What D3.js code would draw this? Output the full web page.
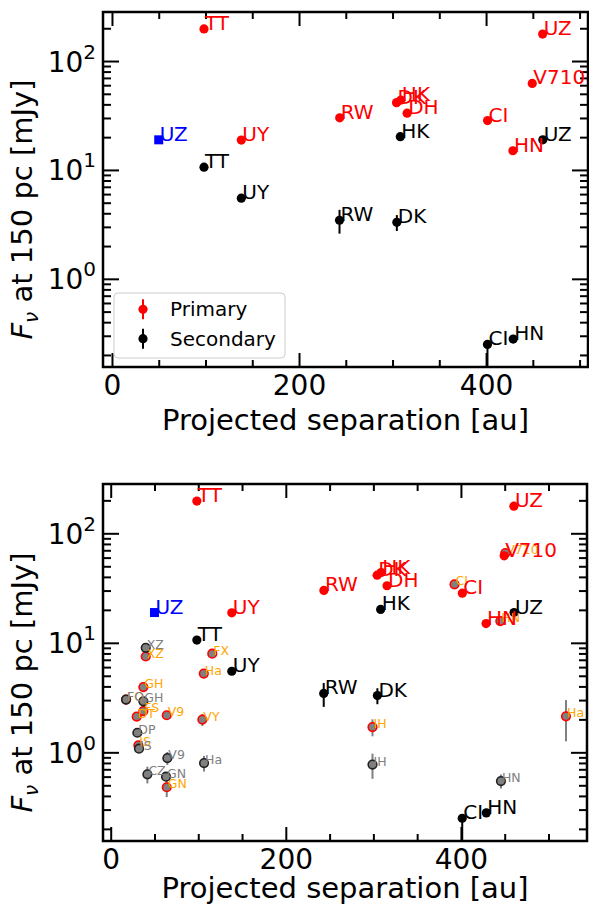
<!DOCTYPE html>
<html>
<head>
<meta charset="utf-8">
<script src="https://cdn.jsdelivr.net/npm/d3@7"></script>
<style>
  body { margin: 0; background: #fff; }
  text { font-family: "DejaVu Sans", sans-serif; }
</style>
</head>
<body>
<svg id="fig" width="589" height="908"></svg>
<script>
// primary components (red)
var primNames = ["TT", "UY", "RW", "DK", "HK", "DH", "CI", "HN", "V710", "UZ"];
var primSep   = [98.4, 138.3, 243.5, 304.3, 308.9, 315.6, 401.6, 428.7, 449.4, 460.5];
var primFlux  = [197, 18.8, 30.1, 41.5, 43.8, 33.2, 28.4, 15.0, 62.3, 177];

// secondary components (black)
var secNames = ["TT", "UY", "RW", "DK", "HK", "CI", "HN", "UZ"];
var secSep   = [98.4, 138.3, 243.3, 304.6, 308.3, 401.5, 429.0, 460.7];
var secFlux  = [10.6, 5.5, 3.45, 3.3, 20.2, 0.25, 0.28, 18.9];
var secErrLo = [0, 0, 0.85, 0.55, 0, 0.12, 0, 0];
var secErrHi = [0, 0, 0.85, 0.55, 0, 0.01, 0, 0];

// single star (blue square)
var singleNames = ["UZ"];
var singleSep   = [50];
var singleFlux  = [18.9];

// comparison sample, lower panel only: primaries (orange labels)
var cmpPrimNames = ["XZ", "FX", "Ha", "GH", "FQ", "DT", "FS", "V9", "VY", "IS", "GN", "IH", "Ha", "CI", "HN", "V710"];
var cmpPrimSep   = [40, 116, 106.3, 37.3, 17.5, 29.7, 37.3, 64, 104.7, 31.6, 64, 299, 520, 392.7, 445, 450.7];
var cmpPrimFlux  = [7.5, 7.96, 5.24, 3.94, 3.03, 2.12, 2.38, 2.18, 1.99, 1.16, 0.48, 1.70, 2.13, 34.2, 15.8, 66];
var cmpPrimErr   = [0, 0, 0, 0, 0, 0, 0, 0, 0.25, 0, 0.09, 0.3, 0.87, 0, 0, 0];

// comparison sample: secondaries (grey labels)
var cmpSecNames = ["XZ", "FQ", "GH", "DP", "IS", "V9", "Ha", "CZ", "GN", "IH", "HN"];
var cmpSecSep   = [40, 17.5, 37.3, 30.4, 32.3, 64.7, 106.6, 41.9, 63.2, 299, 445.7];
var cmpSecFlux  = [9.0, 3.03, 2.92, 1.51, 1.08, 0.887, 0.798, 0.63, 0.60, 0.773, 0.547];
var cmpSecErr   = [0, 0, 0, 0.1, 0, 0.12, 0.13, 0.11, 0, 0.2, 0.08];

var xMajor = [0, 200, 400];
var yMajor = [1, 10, 100];
var yMajorExp = ["0", "1", "2"];
var Y_DOMAIN = [0.155, 282];

var svg = d3.select("#fig");

function rows(names, sep, flux, lo, hi) {
  return names.map(function(n, i) {
    return {name: n, sep: sep[i], flux: flux[i],
            lo: lo ? lo[i] : 0, hi: hi ? hi[i] : 0};
  });
}

function panel(box, xDom, withCmp, withLegend) {
  var x = d3.scaleLinear().domain(xDom).range([box.left, box.right]);
  var y = d3.scaleLog().domain(Y_DOMAIN).range([box.bottom, box.top]);

  var xMinor = d3.range(0, xDom[1], 50).filter(function(v) { return xMajor.indexOf(v) < 0; });
  var yMinor = y.ticks(30).filter(function(v) {
    return yMajor.indexOf(v) < 0 && v > Y_DOMAIN[0] && v < Y_DOMAIN[1];
  });

  var g = svg.append("g");

  function axis(gen, orient, vals, size, fmt) {
    var a = gen(orient === "x" ? x : y).tickValues(vals).tickSize(-size).tickPadding(8);
    a.tickFormat(fmt || "");
    return a;
  }

  // x axes
  g.append("g").attr("transform", "translate(0," + box.bottom + ")")
    .call(axis(d3.axisBottom, "x", xMajor, 14, d3.format("d")));
  g.append("g").attr("transform", "translate(0," + box.bottom + ")")
    .call(axis(d3.axisBottom, "x", xMinor, 7));
  g.append("g").attr("transform", "translate(0," + box.top + ")")
    .call(axis(d3.axisTop, "x", xMajor, 14));
  g.append("g").attr("transform", "translate(0," + box.top + ")")
    .call(axis(d3.axisTop, "x", xMinor, 7));

  // y axes
  var yl = g.append("g").attr("transform", "translate(" + box.left + ",0)")
    .call(axis(d3.axisLeft, "y", yMajor, 16, function() { return ""; }).tickPadding(7));
  g.append("g").attr("transform", "translate(" + box.left + ",0)")
    .call(axis(d3.axisLeft, "y", yMinor, 8));
  g.append("g").attr("transform", "translate(" + box.right + ",0)")
    .call(axis(d3.axisRight, "y", yMajor, 16));
  g.append("g").attr("transform", "translate(" + box.right + ",0)")
    .call(axis(d3.axisRight, "y", yMinor, 8));

  // 10^n labels
  yl.selectAll(".tick text").each(function(d, i) {
    var t = d3.select(this).attr("dy", null).attr("y", 10);
    t.append("tspan").text("10");
    t.append("tspan").attr("font-size", 20).attr("dy", -13).text(yMajorExp[i]);
  });

  g.selectAll(".domain").remove();
  g.selectAll(".tick line").attr("stroke", "#000").attr("stroke-width", 2);
  g.selectAll(".tick text").attr("font-size", 28).attr("fill", "#000")
    .attr("font-family", "DejaVu Sans");

  // frame
  g.append("rect").attr("x", box.left).attr("y", box.top)
    .attr("width", box.right - box.left).attr("height", box.bottom - box.top)
    .attr("fill", "none").attr("stroke", "#000").attr("stroke-width", 2.5);

  // axis titles
  svg.append("text")
    .attr("x", (box.left + box.right) / 2).attr("y", box.bottom + box.titleGap)
    .attr("text-anchor", "middle").attr("font-size", 29)
    .text("Projected separation [au]");

  var yt = svg.append("text")
    .attr("transform", "translate(32," + ((box.top + box.bottom) / 2 + 20) + ") rotate(-90)")
    .attr("text-anchor", "middle").attr("font-size", 29);
  yt.append("tspan").attr("font-style", "italic").text("F");
  yt.append("tspan").attr("font-style", "italic").attr("font-size", 20).attr("dy", 6).text("ν");
  yt.append("tspan").attr("dy", -6).text(" at 150 pc [mJy]");

  // clip data to axes
  var clipId = "clip" + box.top;
  svg.append("clipPath").attr("id", clipId).append("rect")
    .attr("x", box.left).attr("y", box.top)
    .attr("width", box.right - box.left).attr("height", box.bottom - box.top);
  var plot = svg.append("g").attr("clip-path", "url(#" + clipId + ")");

  function errY(v) { return y(Math.max(v, Y_DOMAIN[0] * 0.5)); }

  function errbars(data, color) {
    plot.append("g").selectAll("line")
      .data(data.filter(function(d) { return d.lo > 0 || d.hi > 0; }))
      .enter().append("line")
      .attr("x1", function(d) { return x(d.sep); })
      .attr("x2", function(d) { return x(d.sep); })
      .attr("y1", function(d) { return errY(d.flux - d.lo); })
      .attr("y2", function(d) { return errY(d.flux + d.hi); })
      .attr("stroke", color).attr("stroke-width", 2);
  }

  function dots(data, fill, stroke, r) {
    plot.append("g").selectAll("circle").data(data).enter().append("circle")
      .attr("cx", function(d) { return x(d.sep); })
      .attr("cy", function(d) { return y(d.flux); })
      .attr("r", r)
      .attr("fill", fill)
      .attr("stroke", stroke || "none")
      .attr("stroke-width", stroke ? 1.6 : 0);
  }

  function labels(data, color, size) {
    svg.append("g").selectAll("text").data(data).enter().append("text")
      .attr("x", function(d) { return x(d.sep) + 1; })
      .attr("y", function(d) { return y(d.flux) + 1; })
      .attr("font-size", size).attr("fill", color)
      .text(function(d) { return d.name; });
  }

  if (withCmp) {
    var cp = rows(cmpPrimNames, cmpPrimSep, cmpPrimFlux, cmpPrimErr, cmpPrimErr);
    var cs = rows(cmpSecNames, cmpSecSep, cmpSecFlux, cmpSecErr, cmpSecErr);
    errbars(cp, "#808080");
    errbars(cs, "#808080");
    dots(cp, "#808080", "#ff0000", 4.3);
    dots(cs, "#808080", "#222", 4.3);
    labels(cp, "#ffa500", 12.5);
    labels(cs, "#808080", 12.5);
  }

  var prim = rows(primNames, primSep, primFlux);
  var sec = rows(secNames, secSep, secFlux, secErrLo, secErrHi);
  var single = rows(singleNames, singleSep, singleFlux);

  errbars(sec, "#000");
  dots(prim, "#ff0000", null, 4.6);
  dots(sec, "#000", null, 4.6);
  plot.append("g").selectAll("rect").data(single).enter().append("rect")
    .attr("x", function(d) { return x(d.sep) - 4.5; })
    .attr("y", function(d) { return y(d.flux) - 4.5; })
    .attr("width", 9).attr("height", 9).attr("fill", "#0000ff");

  labels(prim, "#ff0000", 20);
  labels(sec, "#000", 20);
  labels(single, "#0000ff", 20);

  if (withLegend) {
    var lg = svg.append("g").attr("transform", "translate(114,293)");
    lg.append("rect").attr("width", 171).attr("height", 65).attr("rx", 4)
      .attr("fill", "#fff").attr("fill-opacity", 0.8)
      .attr("stroke", "#ccc").attr("stroke-width", 1);
    var items = [{label: "Primary", color: "#ff0000"}, {label: "Secondary", color: "#000"}];
    var it = lg.selectAll("g.item").data(items).enter().append("g")
      .attr("transform", function(d, i) { return "translate(29," + (16.3 + i * 29.4) + ")"; });
    it.append("line").attr("y1", -10).attr("y2", 10)
      .attr("stroke", function(d) { return d.color; }).attr("stroke-width", 2);
    it.append("circle").attr("r", 4.6).attr("fill", function(d) { return d.color; });
    it.append("text").attr("x", 27).attr("y", 7).attr("font-size", 20)
      .text(function(d) { return d.label; });
  }
}

panel({left: 103, right: 588, top: 12, bottom: 367, titleGap: 63}, [-9.6, 509], false, true);
panel({left: 103, right: 587, top: 484, bottom: 841, titleGap: 57}, [-8.8, 544], true, false);
</script>
</body>
</html>
